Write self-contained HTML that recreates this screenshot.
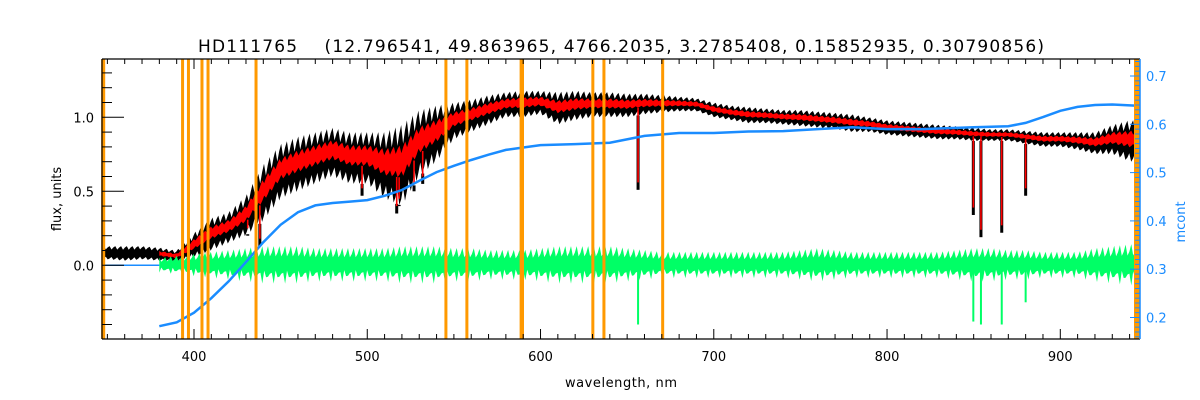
<!DOCTYPE html>
<html><head><meta charset="utf-8"><style>
body{margin:0;background:#fff;}
svg{display:block;font-family:"DejaVu Sans","Liberation Sans",sans-serif;}
</style></head><body>
<svg id="chart" width="1200" height="400" viewBox="0 0 1200 400" xmlns="http://www.w3.org/2000/svg">
<rect width="1200" height="400" fill="#fff"/>
<text x="621" y="52" font-size="17" text-anchor="middle" textLength="846" lengthAdjust="spacing" xml:space="preserve">HD111765    (12.796541, 49.863965, 4766.2035, 3.2785408, 0.15852935, 0.30790856)</text>
<text x="621" y="387" font-size="13" text-anchor="middle" textLength="112" lengthAdjust="spacing">wavelength, nm</text>
<text x="0" y="0" font-size="13" text-anchor="middle" transform="translate(61,199) rotate(-90)">flux, units</text>
<text x="0" y="0" font-size="13" fill="#1a8cff" text-anchor="middle" transform="translate(1185,222) rotate(-90)">mcont</text>
<g id="plot"></g>
</svg>
<script>
// ---- data ----
const grid = [350,360,370,380,390,400,410,420,430,440,450,460,470,480,490,500,510,520,530,540,550,560,570,580,590,600,610,620,630,640,650,660,670,680,690,700,710,720,730,740,750,760,770,780,790,800,810,820,830,840,850,860,870,880,890,900,910,920,930,940];
const fluxUpper = [.13,.13,.13,.12,.1,.22,.32,.36,.47,.68,.82,.87,.9,.93,.9,.9,.9,.95,1.05,1.08,1.1,1.12,1.15,1.17,1.18,1.18,1.17,1.18,1.17,1.17,1.16,1.16,1.15,1.14,1.13,1.1,1.08,1.07,1.06,1.05,1.05,1.04,1.03,1.02,1.0,.98,.97,.96,.95,.94,.93,.92,.92,.91,.9,.9,.9,.9,.95,.98];
const fluxLower = [.04,.03,.04,.03,.02,.05,.1,.15,.2,.3,.45,.5,.55,.6,.55,.55,.45,.4,.6,.7,.85,.9,.95,1.0,1.0,1.02,.95,.98,1.0,1.0,1.0,1.02,1.03,1.04,1.04,1.0,.98,.96,.96,.95,.94,.93,.92,.9,.9,.88,.87,.86,.85,.85,.84,.84,.84,.82,.8,.8,.78,.75,.75,.7];
const residAmp = [0,0,0,.04,.05,.06,.07,.08,.09,.1,.1,.1,.09,.09,.09,.09,.09,.1,.1,.1,.09,.09,.08,.08,.08,.09,.1,.1,.1,.1,.09,.08,.07,.07,.07,.07,.07,.07,.07,.07,.08,.09,.08,.07,.07,.07,.07,.07,.07,.08,.09,.09,.08,.08,.07,.07,.07,.09,.1,.11];
const lineWl = [431,438,497,517,518.4,527,532,589,656.3,849.8,854.2,866.2,880];
const lineDepth = [.2,.13,.47,.35,.4,.5,.55,.53,.51,.34,.19,.22,.47];
const residSpikeWl = [589,656.3,849.8,854.2,866.2,880];
const residSpikeVal = [-.2,-.4,-.38,-.4,-.4,-.25];
const contWl = [380,390,400,410,420,430,440,450,460,470,480,490,500,510,520,530,540,550,560,570,580,590,600,620,640,660,680,700,720,740,760,780,800,820,850,870,880,890,900,910,920,930,946];
const contVal = [.182,.19,.21,.24,.275,.315,.356,.392,.418,.432,.437,.44,.443,.452,.464,.483,.501,.514,.526,.537,.547,.552,.557,.559,.562,.576,.582,.582,.585,.586,.59,.594,.59,.59,.594,.596,.603,.615,.628,.636,.64,.641,.638];
const markerWl = [347.3,393.4,396.8,404.6,408.1,435.8,545.4,557.5,588.8,589.6,630.2,636.6,670.5];
const xTicks = [400,500,600,700,800,900];
const yTicks = [0.0,0.5,1.0];
const y2Ticks = [0.2,0.3,0.4,0.5,0.6,0.7];
// ---- scales ----
const L=102,R=1140,T=59,B=339;
const X0=346.9,X1=946;
const sx=v=>L+(v-X0)/(X1-X0)*(R-L);
const sy=v=>265.3-v*148;
const sy2=v=>76+(0.7-v)*483;
const NS="http://www.w3.org/2000/svg";
const plot=document.getElementById('plot');
function mk(tag,attrs){const e=document.createElementNS(NS,tag);for(const k in attrs)e.setAttribute(k,attrs[k]);plot.appendChild(e);return e;}
function interp(xs,ys,x){if(x<=xs[0])return ys[0];for(let i=1;i<xs.length;i++){if(x<=xs[i]){const t=(x-xs[i-1])/(xs[i]-xs[i-1]);return ys[i-1]+t*(ys[i]-ys[i-1]);}}return ys[ys.length-1];}
const wlStart=348,wlEnd=945;
const cp=mk('clipPath',{id:'pc'});
const cr=document.createElementNS(NS,'rect');cr.setAttribute('x',L);cr.setAttribute('y',T);cr.setAttribute('width',R-L);cr.setAttribute('height',B-T);cp.appendChild(cr);
let e=mk('line',{x1:sx(347),x2:sx(380),y1:sy(0),y2:sy(0),stroke:'#1a8cff','stroke-width':1.5});

function bandPath(fnU,fnL,a,b,step){let top='',bot=[];for(let w=a;w<=b;w+=step){const k=Math.round((w-a)/step)%3;const u=fnU(w),l=fnL(w);top+=(top?'L':'M')+sx(w).toFixed(1)+','+sy(k==0?u:u-(u-l)*(k==1?0.25:0.1)).toFixed(1);bot.push('L'+sx(w).toFixed(1)+','+sy(k==2?l:l+(u-l)*(k==1?0.2:0.08)).toFixed(1));}return top+bot.reverse().join('')+'Z';}
const U=w=>interp(grid,fluxUpper,w),Lo=w=>interp(grid,fluxLower,w);
e=mk('path',{d:bandPath(U,Lo,wlStart,wlEnd,1.1),fill:'#000','clip-path':'url(#pc)'});

lineWl.forEach((w,i)=>{const l=mk('rect',{x:sx(w)-1.5,width:3,y:sy(Lo(w)),height:sy(lineDepth[i])-sy(Lo(w)),fill:'#000'});
});
const RU=w=>Lo(w)+(U(w)-Lo(w))*0.75,RL=w=>Lo(w)+(U(w)-Lo(w))*0.35;
e=mk('path',{d:bandPath(RU,RL,380,944,1.1),fill:'#ff0000'});

lineWl.forEach((w,i)=>{const l=mk('rect',{x:sx(w)-0.8,width:1.6,y:sy(RL(w)),height:Math.max(0,sy(lineDepth[i]+0.05)-sy(RL(w))),fill:'#ff0000'});
});
const GA=w=>interp(grid,residAmp,w);
e=mk('path',{d:(function(){let top='',bot=[];for(let w=380,k=0;w<=944;w+=1.1,k++){const a=GA(w)*(k%3==0?1.3:(k%3==1?0.6:0.85));top+=(top?'L':'M')+sx(w).toFixed(1)+','+sy(a).toFixed(1);bot.push('L'+sx(w).toFixed(1)+','+sy(-a*(k%2?0.6:0.95)).toFixed(1));}return top+bot.reverse().join('')+'Z';})(),fill:'#00ff66'});

residSpikeWl.forEach((w,i)=>{const l=mk('rect',{x:sx(w)-1,width:2,y:sy(0),height:sy(residSpikeVal[i])-sy(0),fill:'#00ff66'});
});
e=mk('polyline',{points:contWl.map((w,i)=>sx(w).toFixed(1)+','+sy2(contVal[i]).toFixed(1)).join(' '),fill:'none',stroke:'#1a8cff','stroke-width':2.5});

markerWl.forEach((w,i)=>{const m=mk('rect',{x:sx(w)-1.5,width:(i==0||i==8)?4:3,y:T,height:B-T,fill:'#ff9900'});
});
e=mk('rect',{x:1134,y:T,width:6,height:B-T,fill:'#ff9900'});

e=mk('path',{d:`M${L},${T}H${R}M${L},${B}H${R}M${L},${T}V${B}`,stroke:'#000','stroke-width':1.2,fill:'none'});

e=mk('line',{x1:R,x2:R,y1:T,y2:B,stroke:'#1a8cff','stroke-width':1.5});

for(let v=350;v<=940;v+=10){const maj=v%100==0;const len=maj?10:5;const xx=sx(v);
mk('line',{x1:xx,x2:xx,y1:B,y2:B-len,stroke:'#000'});mk('line',{x1:xx,x2:xx,y1:T,y2:T+len,stroke:'#000'});}
xTicks.forEach(v=>{const t=mk('text',{x:sx(v),y:B+22,'font-size':13,'text-anchor':'middle'});t.textContent=v;
});
for(let v=-0.4;v<=1.31;v+=0.1){const vv=Math.round(v*10)/10;const maj=Math.abs(vv*2-Math.round(vv*2))<1e-6;const yy=sy(vv);
mk('line',{x1:L,x2:L+(maj?22:10),y1:yy,y2:yy,stroke:'#000'});}
yTicks.forEach(v=>{const t=mk('text',{x:L-8,y:sy(v)+5,'font-size':13,'text-anchor':'end'});t.textContent=v.toFixed(1);
});
for(let k=16;k<=73;k++){const v=k/100;const maj=k%10==0;const yy=sy2(v);
mk('line',{x1:R,x2:R-(maj?10:5),y1:yy,y2:yy,stroke:'#1a8cff'});}
y2Ticks.forEach(v=>{const t=mk('text',{x:R+6,y:sy2(v)+5,'font-size':13,fill:'#1a8cff'});t.textContent=v.toFixed(1);
});
</script>
</body></html>
